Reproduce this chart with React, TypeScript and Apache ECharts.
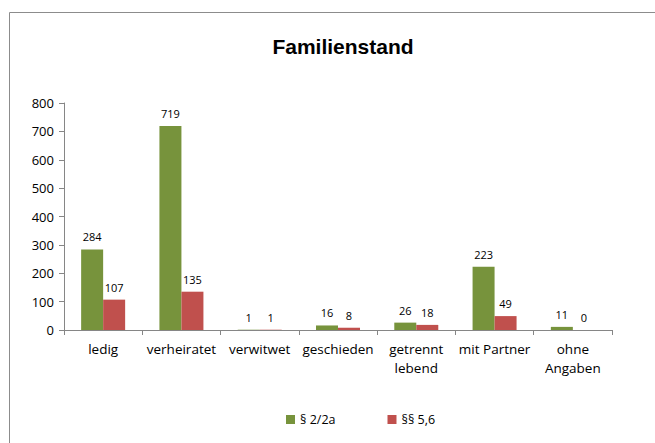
import React, { useEffect, useRef } from "react";
import * as echarts from "echarts";

const categories = ["ledig", "verheiratet", "verwitwet", "geschieden", "getrennt\nlebend", "mit Partner", "ohne\nAngaben"];
const seriesA = [284, 719, 1, 16, 26, 223, 11];
const seriesB = [107, 135, 1, 8, 18, 49, 0];
const seriesNames = ["§ 2/2a", "§§ 5,6"];
const yTicks = [0, 100, 200, 300, 400, 500, 600, 700, 800];

export default function App() {
  const ref = useRef<HTMLDivElement>(null);
  useEffect(() => {
    if (!ref.current) return;
    const chart = echarts.init(ref.current, null, { renderer: "svg" });
    const font = "Open Sans, Liberation Sans, sans-serif";
    chart.setOption({
      animation: false,
      backgroundColor: "#fff",
      title: {
        text: "Familienstand",
        left: 338,
        top: 31,
        textAlign: "center",
        textStyle: { fontFamily: "Liberation Sans, Arial", fontWeight: "bold", fontSize: 21, color: "#000" },
      },
      graphic: [
        {
          type: "rect",
          shape: { x: 9.5, y: 12.5, width: 700, height: 500 },
          style: { fill: "none", stroke: "#8c8c8c", lineWidth: 1 },
          silent: true,
        },
      ],
      legend: {
        left: 281,
        top: 408,
        itemWidth: 9,
        itemHeight: 9,
        itemGap: 52,
        icon: "rect",
        textStyle: { fontFamily: font, fontSize: 12.5, color: "#000" },
        data: seriesNames,
      },
      grid: { left: 64, right: 43, top: 103, bottom: 113, containLabel: false },
      xAxis: {
        type: "category",
        data: categories,
        axisLine: { lineStyle: { color: "#868686" } },
        axisTick: { show: true, length: 5, alignWithLabel: false, lineStyle: { color: "#868686" } },
        axisLabel: { fontFamily: font, fontSize: 13.5, color: "#000", margin: 9, lineHeight: 19, interval: 0 },
      },
      yAxis: {
        type: "value",
        min: 0,
        max: 800,
        interval: 100,
        splitLine: { show: false },
        axisLine: { show: true, lineStyle: { color: "#868686" } },
        axisTick: { show: true, length: 5, lineStyle: { color: "#868686" } },
        axisLabel: {
          fontFamily: font,
          fontSize: 13,
          color: "#000",
          margin: 10,
          formatter: (v: number) => (yTicks.includes(v) ? String(v) : ""),
        },
      },
      series: [
        {
          name: seriesNames[0],
          type: "bar",
          data: seriesA,
          barWidth: 22,
          barGap: "0%",
          itemStyle: { color: "#77933C" },
          label: { show: true, position: "top", distance: 7, fontFamily: font, fontSize: 11, color: "#000" },
        },
        {
          name: seriesNames[1],
          type: "bar",
          data: seriesB,
          barWidth: 22,
          barGap: "0%",
          itemStyle: { color: "#C0504D" },
          label: { show: true, position: "top", distance: 7, fontFamily: font, fontSize: 11, color: "#000" },
        },
      ],
    });
    return () => chart.dispose();
  }, []);
  return <div ref={ref} style={{ position: "fixed", left: 0, top: 0, width: 655, height: 443 }} />;
}
